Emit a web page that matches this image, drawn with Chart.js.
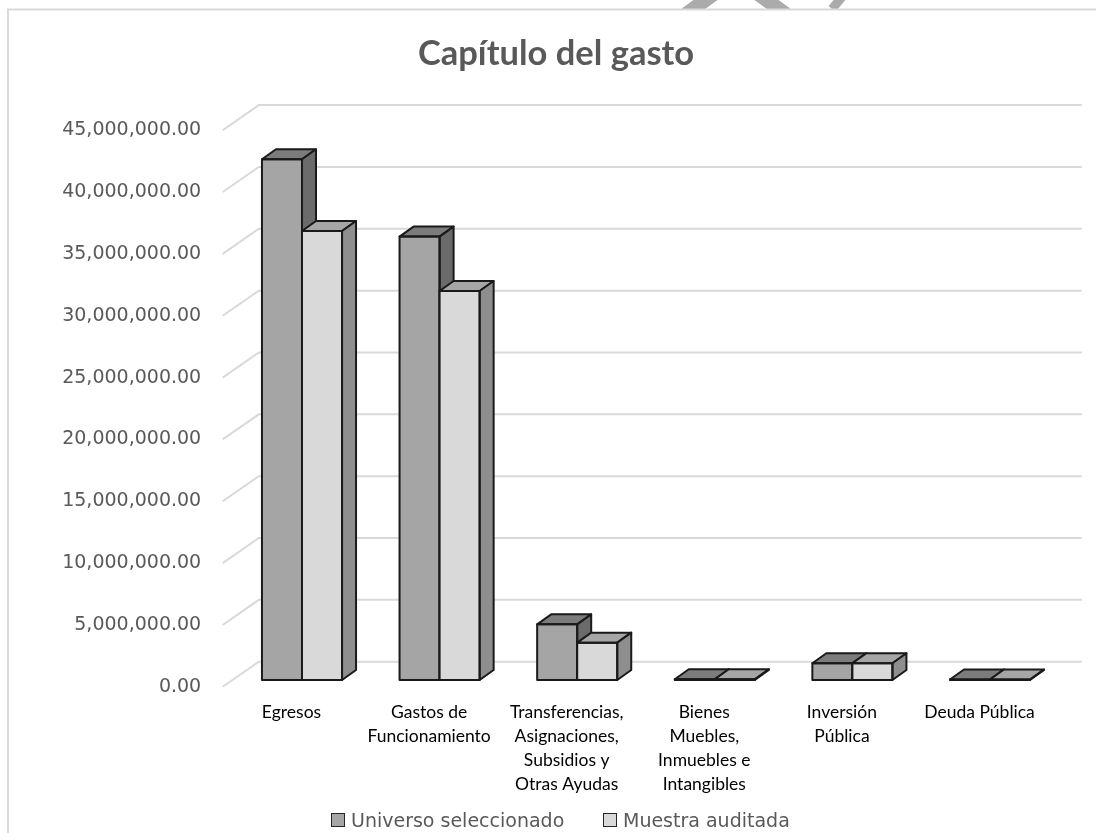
<!DOCTYPE html>
<html>
<head>
<meta charset="utf-8">
<script src="https://cdn.jsdelivr.net/npm/chart.js@4.4.1/dist/chart.umd.min.js"></script>
<style>
  html, body { margin: 0; padding: 0; background: #fff; overflow: hidden; }
  #wrap { position: relative; width: 1096px; height: 833px; overflow: hidden; }
  #myChart { display: block; position: absolute; left: 0; top: 0; }
  .leyenda { position: absolute; top: 809px; height: 22px; display: flex; align-items: center;
             font-family: 'DejaVu Sans'; font-size: 19px; line-height: 22px; color: #595959; white-space: nowrap; }
  .leyenda i { display: inline-block; width: 14px; height: 14px; box-sizing: border-box;
               border: 1.5px solid #262626; margin-right: 6px; }
</style>
</head>
<body>
<div id="wrap">
  <canvas id="myChart" width="1112" height="833"></canvas>
  <div id="leyenda"></div>
</div>
<script>
const categorias = [
    ['Egresos'],
    ['Gastos de', 'Funcionamiento'],
    ['Transferencias,', 'Asignaciones,', 'Subsidios y', 'Otras Ayudas'],
    ['Bienes', 'Muebles,', 'Inmuebles e', 'Intangibles'],
    ['Inversión', 'Pública'],
    ['Deuda Pública'],
]
const series = ['Universo seleccionado', 'Muestra auditada']
const universo = [42100000, 35850000, 4500000, 60000, 1350000, 40000]
const muestra = [36300000, 31450000, 3020000, 60000, 1350000, 40000]
const ticksY = [0, 5000000, 10000000, 15000000, 20000000, 25000000, 30000000, 35000000, 40000000, 45000000]

// profundidad del efecto 3D
const DX = 14, DY = 10
const colores = {
    oscuro: { frente: '#a5a5a5', arriba: '#7c7c7c', lado: '#6b6b6b' },
    claro: { frente: '#d9d9d9', arriba: '#a6a6a6', lado: '#8e8e8e' },
}

const ctx = document.querySelector('#myChart').getContext('2d')

const fondo = {
    id: 'fondo',
    beforeDraw: (chart) => {
        const { ctx, width, height } = chart
        ctx.save()
        ctx.fillStyle = '#ffffff'
        ctx.fillRect(0, 0, width, height)
        // restos de la marca de agua
        ctx.beginPath()
        ctx.rect(0, 0, width, 9)
        ctx.clip()
        ctx.strokeStyle = '#ababab'
        ctx.lineWidth = 14
        ctx.beginPath()
        ctx.moveTo(686, 14); ctx.lineTo(714, -6)
        ctx.moveTo(758, -6); ctx.lineTo(786, 14)
        ctx.stroke()
        ctx.lineWidth = 9
        ctx.beginPath()
        ctx.moveTo(832, 9); ctx.lineTo(842, -3)
        ctx.stroke()
        ctx.restore()
        ctx.save()
        ctx.strokeStyle = '#d9d9d9'
        ctx.lineWidth = 2
        ctx.strokeRect(8, 9.5, width + 20, height + 20)
        ctx.restore()
    }
}

// lineas de la pared del fondo con su diagonal
const rejilla = {
    id: 'rejilla',
    beforeDatasetsDraw: (chart) => {
        const { ctx, chartArea } = chart
        const y = chart.scales.y
        ctx.save()
        ctx.strokeStyle = '#d9d9d9'
        ctx.lineWidth = 2
        y.ticks.forEach(t => {
            const py = y.getPixelForValue(t.value)
            ctx.beginPath()
            ctx.moveTo(chartArea.left - 10.5, py + 6.8)
            ctx.lineTo(chartArea.left + 25.6, py - 18.3)
            ctx.lineTo(chartArea.right + 23, py - 18.3)
            ctx.stroke()
        })
        ctx.restore()
    }
}

function caja(ctx, el, c) {
    const { x, y, base, width } = el.getProps(['x', 'y', 'base', 'width'], true)
    const l = x - width / 2, r = x + width / 2
    ctx.fillStyle = c.arriba
    ctx.beginPath()
    ctx.moveTo(l, y); ctx.lineTo(l + DX, y - DY); ctx.lineTo(r + DX, y - DY); ctx.lineTo(r, y)
    ctx.closePath()
    ctx.fill(); ctx.stroke()
    ctx.fillStyle = c.lado
    ctx.beginPath()
    ctx.moveTo(r, y); ctx.lineTo(r + DX, y - DY); ctx.lineTo(r + DX, base - DY); ctx.lineTo(r, base)
    ctx.closePath()
    ctx.fill(); ctx.stroke()
    ctx.strokeRect(l, y, width, base - y)
}

const barras3d = {
    id: 'barras3d',
    afterDatasetsDraw: (chart) => {
        const { ctx } = chart
        const oscuras = chart.getDatasetMeta(0).data
        const claras = chart.getDatasetMeta(1).data
        ctx.save()
        ctx.strokeStyle = '#1a1a1a'
        ctx.lineWidth = 2
        ctx.lineJoin = 'round'
        oscuras.forEach((el, i) => {
            caja(ctx, el, colores.oscuro)
            claras[i].draw(ctx)
            caja(ctx, claras[i], colores.claro)
        })
        ctx.restore()
    }
}

const data = {
    labels: categorias,
    datasets: [{
        label: series[0],
        data: universo,
        backgroundColor: colores.oscuro.frente,
        borderWidth: 0,
    }, {
        label: series[1],
        data: muestra,
        backgroundColor: colores.claro.frente,
        borderWidth: 0,
    }]
}

const config = {
    type: 'bar',
    data: data,
    plugins: [fondo, rejilla, barras3d],
    options: {
        responsive: false,
        animation: false,
        categoryPercentage: 0.582,
        barPercentage: 1,
        layout: { padding: 0 },
        scales: {
            x: {
                grid: { display: false, drawTicks: false },
                border: { display: false },
                afterFit: (s) => { s.height = 153 },
                ticks: {
                    color: '#000000',
                    padding: 20,
                    labelOffset: -10.5,
                    maxRotation: 0,
                    autoSkip: false,
                    font: { family: 'Lato', size: 17.5, lineHeight: '24px' },
                }
            },
            y: {
                min: 0,
                max: 45000000,
                afterFit: (s) => { s.width = 233.2 },
                afterBuildTicks: (s) => { s.ticks = ticksY.map(v => ({ value: v })) },
                grid: { display: false, drawTicks: false },
                border: { display: false },
                ticks: {
                    color: '#595959',
                    padding: 32,
                    labelOffset: 6.8,
                    font: { family: 'DejaVu Sans', size: 19 },
                    callback: (value) => value.toLocaleString('en-US', { minimumFractionDigits: 2, maximumFractionDigits: 2 }),
                }
            },
            derecha: {
                position: 'right',
                afterFit: (s) => { s.width = 1112 - 1058.8 },
                grid: { display: false, drawTicks: false },
                border: { display: false },
                ticks: { display: false },
            }
        },
        plugins: {
            title: {
                display: true,
                text: 'Capítulo del gasto',
                color: '#595959',
                font: { family: 'Lato', size: 34.5, weight: 'bold', lineHeight: 1.2 },
                padding: { top: 33, bottom: 49.0 },
            },
            legend: { display: false },
            tooltip: { enabled: false },
        },
    },
}

const myChart = new Chart(ctx, config)

// leyenda en HTML con los colores de las series
const posLeyenda = [331, 603]
document.querySelector('#leyenda').innerHTML = myChart.data.datasets.map((ds, i) =>
    `<div class="leyenda" style="left:${posLeyenda[i]}px"><i style="background:${ds.backgroundColor}"></i>${ds.label}</div>`
).join('')
</script>
</body>
</html>
